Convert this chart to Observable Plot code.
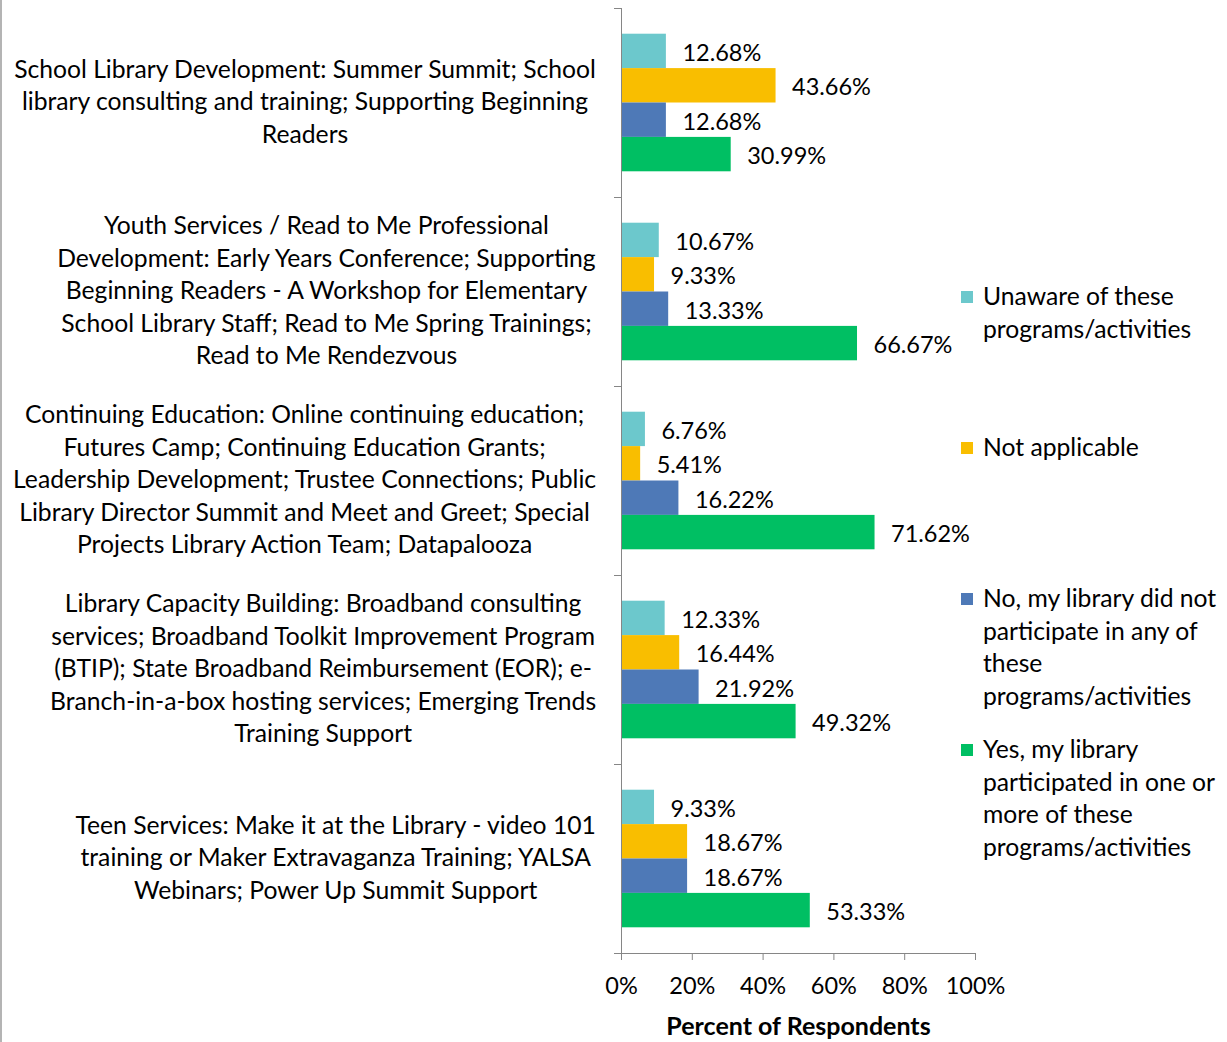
<!DOCTYPE html>
<html><head><meta charset="utf-8">
<script src="https://cdn.jsdelivr.net/npm/d3@7"></script>
<script src="https://cdn.jsdelivr.net/npm/@observablehq/plot@0.6"></script>
<style>
body{margin:0;background:#fff;font-family:Lato,sans-serif;}
#wrap{position:relative;width:1227px;height:1042px;overflow:hidden;background:#fff;}
#edge{position:absolute;left:0;top:0;width:2px;height:1042px;background:#b4b4b4;}
#wrap svg{position:absolute;left:0;top:0;}
.leg{position:absolute;left:961px;font:24.7px/32.5px Lato;color:#000;}
.leg .sw{position:absolute;left:0;top:11px;width:12px;height:12px;}
.leg .tx{position:absolute;left:22px;top:0;white-space:pre;}
</style></head><body><div id="wrap"><div id="edge"></div></div>
<script>
const categories = [
  "School Library Development: Summer Summit; School\nlibrary consulting and training; Supporting Beginning\nReaders",
  "Youth Services / Read to Me Professional\nDevelopment: Early Years Conference; Supporting\nBeginning Readers - A Workshop for Elementary\nSchool Library Staff; Read to Me Spring Trainings;\nRead to Me Rendezvous",
  "Continuing Education: Online continuing education;\nFutures Camp; Continuing Education Grants;\nLeadership Development; Trustee Connections; Public\nLibrary Director Summit and Meet and Greet; Special\nProjects Library Action Team; Datapalooza",
  "Library Capacity Building: Broadband consulting\nservices; Broadband Toolkit Improvement Program\n(BTIP); State Broadband Reimbursement (EOR); e-\nBranch-in-a-box hosting services; Emerging Trends\nTraining Support",
  "Teen Services: Make it at the Library - video 101\ntraining or Maker Extravaganza Training; YALSA\nWebinars; Power Up Summit Support"
];
const seriesNames = [
  "Unaware of these\nprograms/activities",
  "Not applicable",
  "No, my library did not\nparticipate in any of\nthese\nprograms/activities",
  "Yes, my library\nparticipated in one or\nmore of these\nprograms/activities"
];
const unaware       = [12.68, 10.67, 6.76, 12.33, 9.33];
const notApplicable = [43.66, 9.33, 5.41, 16.44, 18.67];
const didNot        = [12.68, 13.33, 16.22, 21.92, 18.67];
const participated  = [30.99, 66.67, 71.62, 49.32, 53.33];
const xTicks = [0, 20, 40, 60, 80, 100];
const seriesColors = ["#6CC8CC", "#F9BE00", "#4E79B7", "#00BF63"];
const xTitle = "Percent of Respondents";

const FONT = "Lato";
const FS_TEXT = 24.7;
const FS_NUM = 23.5;
const LH = 32.5;
const AXIS = "#868686";

const values = [unaware, notApplicable, didNot, participated];
const rows = categories.flatMap((c, i) =>
  values.map((v, j) => ({category: c, ci: i, si: j, series: seriesNames[j], value: v[i]})));
const PAD = 0.136, BH = (1 - 2 * PAD) / 4;
const y1 = d => d.ci - 0.5 + PAD + d.si * BH;
const y2 = d => y1(d) + BH;

const ctx = document.createElement("canvas").getContext("2d");
ctx.font = `${FS_TEXT}px ${FONT}`;
const labelMarks = categories.map((c, i) => {
  const w = d3.max(c.split("\n"), l => ctx.measureText(l).width);
  return Plot.text([i], {
    y: d => d, text: () => c, frameAnchor: "left", textAnchor: "middle",
    dx: -25 - w / 2, dy: -3, lineHeight: LH / FS_TEXT, fontSize: FS_TEXT, fill: "#000"
  });
});

const bounds = d3.range(categories.length + 1).map(k => k - 0.5);

const chart = Plot.plot({
  width: 1227, height: 1042,
  marginLeft: 621, marginRight: 252, marginTop: 8, marginBottom: 89,
  style: {fontFamily: FONT, fontSize: FS_NUM + "px", color: "#000", background: "transparent"},
  x: {domain: [0, 100], axis: null},
  y: {type: "linear", domain: [categories.length - 0.5, -0.5], axis: null},
  color: {domain: seriesNames, range: seriesColors},
  marks: [
    Plot.rect(rows, {x1: 0, x2: "value", y1, y2, fill: "series"}),
    Plot.ruleX([0], {y1: -0.5, y2: categories.length - 0.5, stroke: AXIS}),
    Plot.ruleY(bounds, {x1: 0, x2: 0, insetLeft: -7, stroke: AXIS}),
    Plot.ruleY([categories.length - 0.5], {x1: 0, x2: 100, insetLeft: -7, stroke: AXIS}),
    Plot.axisX({ticks: xTicks, tickFormat: d => d + "%", tickSize: 7, tickPadding: 17,
      fontSize: FS_NUM, stroke: AXIS, fill: "#000", label: null}),
    Plot.text(rows, {x: "value", y: d => (y1(d) + y2(d)) / 2, text: d => d.value.toFixed(2) + "%",
      dx: 16, dy: 2, textAnchor: "start", fontSize: FS_NUM, fill: "#000"}),
    ...labelMarks,
    Plot.text([xTitle], {text: d => d, frameAnchor: "bottom", dy: 81, fontWeight: "bold", fontSize: 25, fill: "#000"})
  ]
});
const wrap = document.getElementById("wrap");
wrap.appendChild(chart);

const legendTops = [280, 431, 582, 733];
seriesNames.forEach((s, j) => {
  const div = document.createElement("div");
  div.className = "leg";
  div.style.top = legendTops[j] + "px";
  const sw = document.createElement("div");
  sw.className = "sw"; sw.style.background = seriesColors[j];
  const tx = document.createElement("div");
  tx.className = "tx"; tx.textContent = s;
  div.appendChild(sw); div.appendChild(tx);
  wrap.appendChild(div);
});
</script>
</body></html>
